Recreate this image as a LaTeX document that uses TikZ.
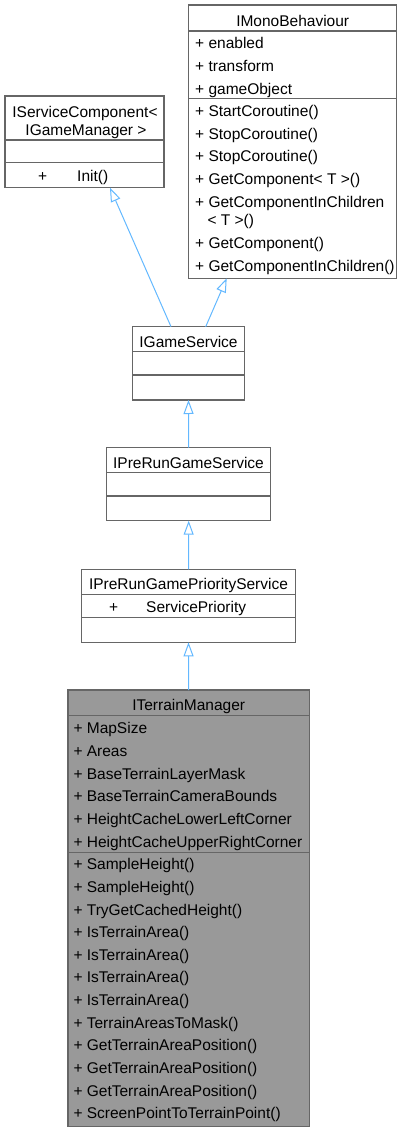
\documentclass[tikz,border=0pt]{standalone}
\usepackage{fontspec}
\setmainfont{Liberation Sans}
\usepackage{tikz}
\usetikzlibrary{arrows.meta}
\definecolor{edgeBlue}{HTML}{63B8FF}
\definecolor{boxLine}{HTML}{666666}
\definecolor{mainFill}{HTML}{999999}

\begin{document}
\begin{tikzpicture}[
  x=1pt, y=-1pt,
  cls/.style={
    draw=boxLine, line width=1.2pt, fill=white,
    anchor=north west, inner sep=0pt, outer sep=0pt
  },
  sep/.style={draw=boxLine, line width=1.2pt},
  title/.style={anchor=base, inner sep=0pt, font=\fontsize{15.5}{18}\selectfont},
  member/.style={anchor=base west, inner sep=0pt, font=\fontsize{15.5}{18}\selectfont},
  inherit/.style={
    draw=edgeBlue, line width=1pt,
    -{Triangle[length=14pt, width=10pt, fill=white]}
  }
]
\useasboundingbox (0,0) rectangle (402,1132);

% class boxes
\node[cls, minimum width=159pt, minimum height=91.7pt] (svcComp) at (5,96) {};
\node[cls, minimum width=208pt, minimum height=273.3pt] (monoBeh) at (188.7,5) {};
\node[cls, minimum width=111.6pt, minimum height=73.3pt] (gameSvc) at (132.7,326.7) {};
\node[cls, minimum width=164pt, minimum height=73pt] (preRun) at (106.7,447.7) {};
\node[cls, minimum width=213.6pt, minimum height=73pt] (preRunPrio) at (81.7,569.3) {};
\node[cls, fill=mainFill, minimum width=241.3pt, minimum height=436.7pt] (terrainMgr) at (68,690) {};

% compartments
\draw[sep] (svcComp.west |- 0,140) -- (svcComp.east |- 0,140);
\draw[sep] (svcComp.west |- 0,162.7) -- (svcComp.east |- 0,162.7);
\draw[sep] (monoBeh.west |- 0,31) -- (monoBeh.east |- 0,31);
\draw[sep] (monoBeh.west |- 0,98.7) -- (monoBeh.east |- 0,98.7);
\draw[sep] (gameSvc.west |- 0,351.7) -- (gameSvc.east |- 0,351.7);
\draw[sep] (gameSvc.west |- 0,375) -- (gameSvc.east |- 0,375);
\draw[sep] (preRun.west |- 0,472.7) -- (preRun.east |- 0,472.7);
\draw[sep] (preRun.west |- 0,496) -- (preRun.east |- 0,496);
\draw[sep] (preRunPrio.west |- 0,594.3) -- (preRunPrio.east |- 0,594.3);
\draw[sep] (preRunPrio.west |- 0,617.3) -- (preRunPrio.east |- 0,617.3);
\draw[sep] (terrainMgr.west |- 0,715.7) -- (terrainMgr.east |- 0,715.7);
\draw[sep] (terrainMgr.west |- 0,852.3) -- (terrainMgr.east |- 0,852.3);

% titles
\node[title] (svcCompT1) at (85,117.2) {IServiceComponent<};
\node[title] (svcCompT2) at (86,135.5) {IGameManager >};
\node[title] (monoBehT) at (292.7,26.2) {IMonoBehaviour};
\node[title] (gameSvcT) at (188.5,347.2) {IGameService};
\node[title] (preRunT) at (188.5,468.8) {IPreRunGameService};
\node[title] (preRunPrioT) at (188.5,589.8) {IPreRunGamePriorityService};
\node[title] (terrainMgrT) at (188.7,710.5) {ITerrainManager};

% members
\node[member] (svcCompP) at (38,181.2) {+};
\node[member] (svcCompM) at (77,181.2) {Init()};
\node[member] (preRunPrioP) at (109,612.2) {+};
\node[member] (preRunPrioA) at (146,612.2) {ServicePriority};

\foreach \m [count=\k from 0] in {enabled, transform, gameObject,
    StartCoroutine(), StopCoroutine(), StopCoroutine(),
    GetComponent< T >(), GetComponentInChildren}
  \node[member] (monoBeh\k) at (195,48.8+22.6*\k) {+ \m};
\node[member] (monoBehW) at (207.3,225.5) {< T >()};
\node[member] (monoBeh8) at (195,248.8) {+ GetComponent()};
\node[member] (monoBeh9) at (195,271.5) {+ GetComponentInChildren()};

\foreach \m [count=\k from 0] in {MapSize, Areas, BaseTerrainLayerMask,
    BaseTerrainCameraBounds, HeightCacheLowerLeftCorner, HeightCacheUpperRightCorner,
    SampleHeight(), SampleHeight(), TryGetCachedHeight(), IsTerrainArea(),
    IsTerrainArea(), IsTerrainArea(), IsTerrainArea(), TerrainAreasToMask(),
    GetTerrainAreaPosition(), GetTerrainAreaPosition(), GetTerrainAreaPosition(),
    ScreenPointToTerrainPoint()}
  \node[member] (terrainMgr\k) at (73.3,733.8+22.65*\k) {+ \m};

% inheritance
\draw[inherit] ([xshift=-17.5pt]gameSvc.north) -- ([xshift=25.5pt]svcComp.south);
\draw[inherit] ([xshift=17.2pt]gameSvc.north) -- ([xshift=-66pt]monoBeh.south);
\draw[inherit] (preRun.north) -- (gameSvc.south);
\draw[inherit] (preRunPrio.north) -- (preRun.south);
\draw[inherit] (terrainMgr.north) -- (preRunPrio.south);
\end{tikzpicture}
\end{document}
